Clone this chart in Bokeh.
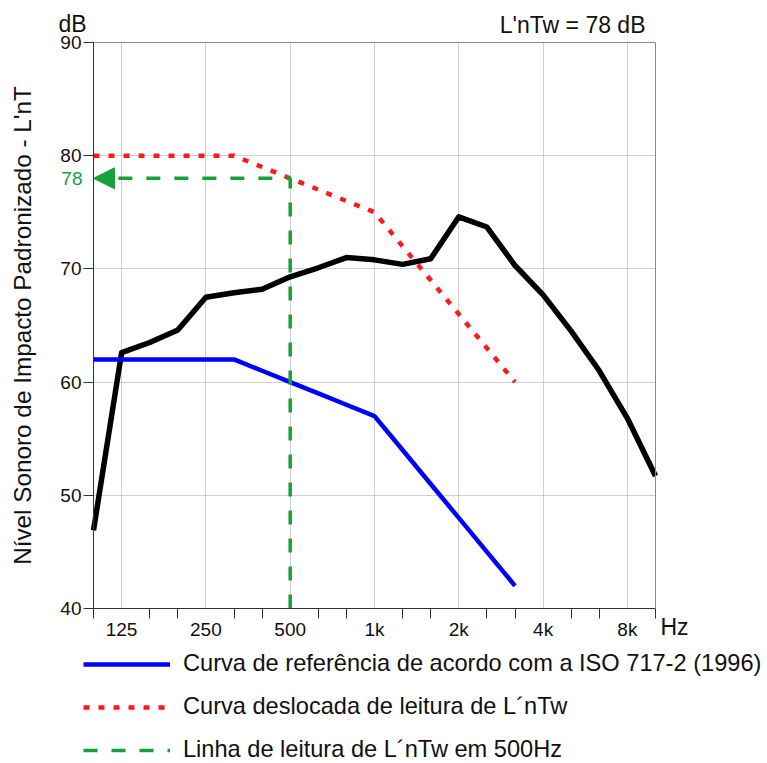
from bokeh.plotting import figure
from bokeh.models import (FixedTicker, Legend, LegendItem, Arrow, NormalHead,
                          LinearAxis, Grid, Range1d)
from bokeh.core.properties import value
from bokeh.embed import file_html
from bokeh.resources import INLINE

# ---------------- data ----------------
bands = ["100", "125", "160", "200", "250", "315", "400", "500", "630", "800", "1k",
         "1.25k", "1.6k", "2k", "2.5k", "3.15k", "4k", "5k", "6.3k", "8k", "10k"]
measured = [46.9, 62.6, 63.5, 64.6, 67.5, 67.9, 68.2, 69.3, 70.1, 71.0, 70.8,
            70.4, 70.9, 74.6, 73.7, 70.3, 67.7, 64.5, 61.0, 56.8, 51.7]
ref_bands = ["100", "125", "160", "200", "250", "315", "400", "500", "630", "800", "1k",
             "1.25k", "1.6k", "2k", "2.5k", "3.15k"]
reference = [62, 62, 62, 62, 62, 62, 61, 60, 59, 58, 57, 54, 51, 48, 45, 42]
shifted = [80, 80, 80, 80, 80, 80, 79, 78, 77, 76, 75, 72, 69, 66, 63, 60]
labelled_bands = ["125", "250", "500", "1k", "2k", "4k", "8k"]
y_ticks = [40, 50, 60, 70, 80, 90]
y_grid = [50, 60, 70, 80]
reading_band = "500"
lntw = 78
y_min, y_max = 40, 90

legend_texts = ["Curva de referência de acordo com a ISO 717-2 (1996)",
                "Curva deslocada de leitura de L\u00b4nTw",
                "Linha de leitura de L\u00b4nTw em 500Hz"]

FONT = "Liberation Sans"
BLUE = "#0000ff"
RED = "#ff1a1a"
GREEN = "#17a03a"
AX = "#333333"
TXT = "#111111"

pos = {b: i for i, b in enumerate(bands)}
xm = [pos[b] for b in bands]
xr = [pos[b] for b in ref_bands]
x_lo, x_hi = 0, len(bands) - 1

# layout constants (pixels)
W, H = 767, 763
BOX_L, BOX_R, BOX_T, BOX_B = 93, 655, 42, 608
px_x = (BOX_R - BOX_L) / (x_hi - x_lo)
px_y = (BOX_B - BOX_T) / (y_max - y_min)

p = figure(width=W, height=H,
           x_range=Range1d(x_lo - BOX_L / px_x, x_hi + (W - BOX_R) / px_x),
           y_range=Range1d(y_min - (H - BOX_B) / px_y, y_max + BOX_T / px_y),
           x_axis_type=None, y_axis_type=None,
           output_backend="svg", toolbar_location=None, min_border=0)
p.outline_line_color = None
p.background_fill_color = "white"
p.border_fill_color = "white"

major_x = [pos[b] for b in labelled_bands]
minor_x = [i for i in range(len(bands)) if i not in major_x]

# ---- grid ----
grid_style = dict(grid_line_color="#a0a0a0", grid_line_dash="1 1", grid_line_width=1)
if "cross_bounds" in Grid.properties():
    p.add_layout(Grid(dimension=0, ticker=FixedTicker(ticks=major_x), bounds=(x_lo, x_hi),
                      cross_bounds=(y_min, y_max), **grid_style))
    p.add_layout(Grid(dimension=1, ticker=FixedTicker(ticks=y_grid), bounds=(y_min, y_max),
                      cross_bounds=(x_lo, x_hi), **grid_style))
else:
    p.segment(x0=major_x, y0=[y_min] * len(major_x), x1=major_x, y1=[y_max] * len(major_x),
              line_color="#a0a0a0", line_dash="1 1", line_width=1)
    p.segment(x0=[x_lo] * len(y_grid), y0=y_grid, x1=[x_hi] * len(y_grid), y1=y_grid,
              line_color="#a0a0a0", line_dash="1 1", line_width=1)

# ---- axes ----
xaxis = LinearAxis(fixed_location=y_min, bounds=(x_lo, x_hi),
                   ticker=FixedTicker(ticks=major_x, minor_ticks=minor_x),
                   major_label_overrides={pos[b]: b for b in labelled_bands},
                   major_tick_line_color=None, minor_tick_out=10, minor_tick_in=0,
                   minor_tick_line_color=AX, axis_line_color=AX,
                   major_label_text_font=FONT, major_label_text_font_size="19px",
                   major_label_text_color=TXT, major_label_standoff=0)
p.add_layout(xaxis, "below")

yaxis = LinearAxis(fixed_location=x_lo, bounds=(y_min, y_max),
                   ticker=FixedTicker(ticks=y_ticks, minor_ticks=[]),
                   major_tick_out=10, major_tick_in=0, major_tick_line_color=AX,
                   axis_line_color=AX, major_label_text_font=FONT,
                   major_label_text_font_size="19px", major_label_text_color=TXT,
                   major_label_standoff=2,
                   axis_label="Nível Sonoro de Impacto Padronizado - L'nT",
                   axis_label_text_font=FONT, axis_label_text_font_size="24.3px",
                   axis_label_text_font_style="normal", axis_label_text_color=TXT,
                   axis_label_standoff=21)
p.add_layout(yaxis, "left")

top_axis = LinearAxis(fixed_location=y_max, bounds=(x_lo, x_hi), ticker=FixedTicker(ticks=[]),
                      axis_line_color="#8a8a8a", major_tick_line_color=None,
                      minor_tick_line_color=None, major_label_text_alpha=0)
p.add_layout(top_axis, "above")
right_axis = LinearAxis(fixed_location=x_hi, bounds=(y_min, y_max), ticker=FixedTicker(ticks=[]),
                        axis_line_color="#8a8a8a", major_tick_line_color=None,
                        minor_tick_line_color=None, major_label_text_alpha=0)
p.add_layout(right_axis, "right")

# ---- curves ----
r_meas = p.line(xm, measured, line_color="black", line_width=5.5, line_join="round")
r_ref = p.line(xr, reference, line_color=BLUE, line_width=4.5)
r_shift = p.line(xr, shifted, line_color=RED, line_width=4.5, line_dash="6 9")
rx = pos[reading_band]
head_len = 22 / px_x
r_read = p.line([rx, rx, x_lo + head_len], [y_min, lntw, lntw], line_color=GREEN,
                line_width=3.5, line_dash="14 14")
p.add_layout(Arrow(x_start=x_lo + head_len, y_start=lntw, x_end=x_lo, y_end=lntw,
                   line_alpha=0,
                   end=NormalHead(size=21, fill_color=GREEN, line_color=GREEN)))

# ---- texts ----
def txt(x, y, text, size="23px", color=TXT, align="left", baseline="middle"):
    p.text(x=[x], y=[y], text=[text], text_font=value(FONT), text_font_size=value(size),
           text_color=color, text_align=align, text_baseline=baseline)

txt(x_lo - 35 / px_x, y_max + 19 / px_y, "dB")
txt(x_hi - 10 / px_x, y_max + 18 / px_y, "L'nTw = %d dB" % lntw, align="right")
txt(x_hi + 5 / px_x, y_min - 18 / px_y, "Hz")
txt(x_lo - 11 / px_x, lntw, str(lntw), size="19px", color=GREEN, align="right")

legend = Legend(items=[LegendItem(label=legend_texts[0], renderers=[r_ref]),
                       LegendItem(label=legend_texts[1], renderers=[r_shift]),
                       LegendItem(label=legend_texts[2], renderers=[r_read])],
                location=(83, 0), orientation="vertical")
legend.glyph_width = 87
legend.glyph_height = 20
legend.label_height = 20
legend.spacing = 16
legend.label_standoff = 13
legend.padding = 0
legend.margin = 0
legend.border_line_color = None
legend.background_fill_alpha = 0
legend.label_text_font = FONT
legend.label_text_font_size = "23.6px"
legend.label_text_color = TXT
p.add_layout(legend)

open("out.html", "w").write(file_html(p, INLINE))
